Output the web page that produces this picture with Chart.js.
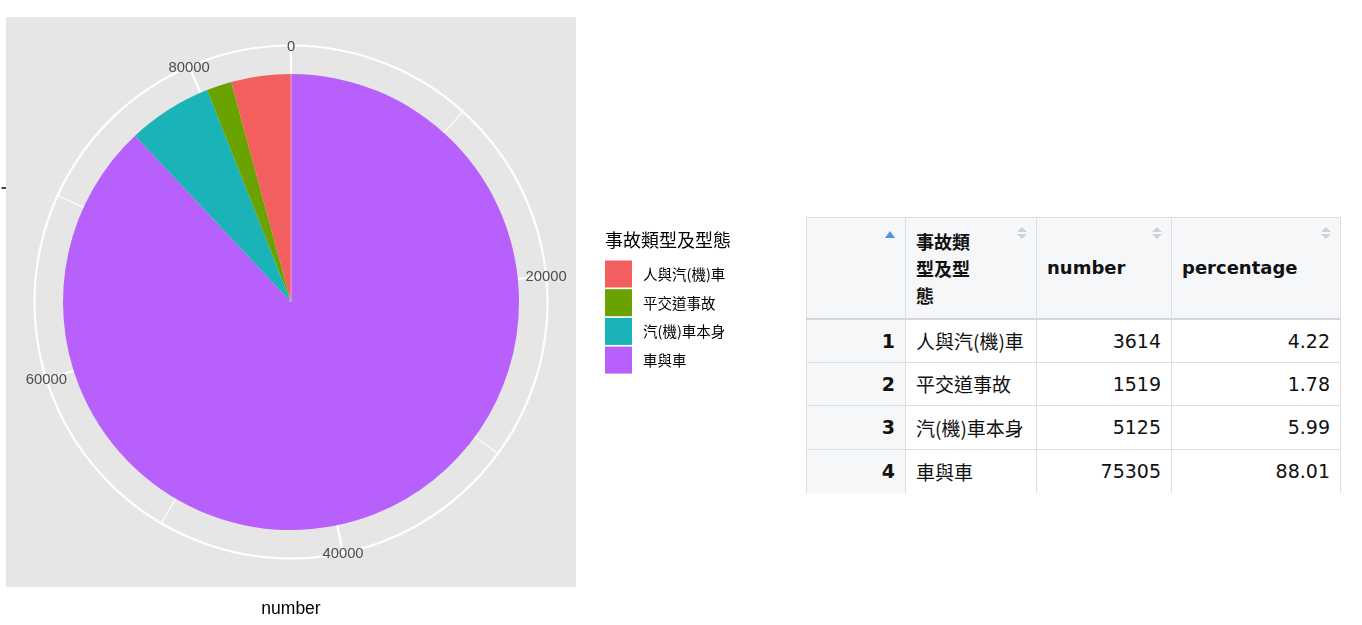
<!DOCTYPE html>
<html>
<head>
<meta charset="utf-8">
<script src="https://cdn.jsdelivr.net/npm/chart.js@4.4.1/dist/chart.umd.min.js"></script>
<style>
html,body{margin:0;padding:0;background:#fff;width:1362px;height:625px;overflow:hidden;}
#chartBox{position:absolute;left:0;top:0;width:790px;height:625px;}
#tbl{position:absolute;left:806px;top:217px;border-collapse:collapse;table-layout:fixed;
  font-family:"DejaVu Sans","Noto Sans CJK TC",sans-serif;color:#111;font-size:19px;}
#tbl th,#tbl td{border-left:1px solid #dcdfe3;border-right:1px solid #dcdfe3;padding:0 10px;box-sizing:border-box;}
#tbl th{background:#f6f7f9;height:101px;border-top:1px solid #dcdfe3;border-bottom:2px solid #d3d6da;
  font-weight:bold;font-size:18px;text-align:left;vertical-align:middle;position:relative;}
#tbl th.cjk{font-family:"Noto Sans CJK TC",sans-serif;line-height:27px;font-size:18px;padding-top:2px;}
#tbl td{height:43.5px;border-bottom:1px solid #dcdfe3;vertical-align:middle;white-space:nowrap;}
#tbl tr:last-child td{border-bottom:none;}
#tbl td.rn{background:#f6f7f9;text-align:right;font-weight:bold;}
#tbl td.nm{font-family:"Noto Sans CJK TC",sans-serif;text-align:left;}
#tbl td.num{text-align:right;}
.sortup{position:absolute;top:13px;right:10px;width:0;height:0;border-left:5.5px solid transparent;border-right:5.5px solid transparent;border-bottom:7px solid #4f95e0;}
.sortboth{position:absolute;top:9px;right:9px;width:10px;height:13px;}
.sortboth:before{content:"";position:absolute;left:0;top:0;border-left:5px solid transparent;border-right:5px solid transparent;border-bottom:5.5px solid #cfd2d6;}
.sortboth:after{content:"";position:absolute;left:0;top:7px;border-left:5px solid transparent;border-right:5px solid transparent;border-top:5.5px solid #cfd2d6;}
</style>
</head>
<body>
<div id="chartBox"><canvas id="c" width="790" height="625"></canvas></div>
<table id="tbl"></table>
<script>
// ---- data ----
const categories = ['人與汽(機)車', '平交道事故', '汽(機)車本身', '車與車'];
const counts = [3614, 1519, 5125, 75305];
const percentages = ['4.22', '1.78', '5.99', '88.01'];
const fillColors = ['#F35F5E', '#6AA200', '#19B3B8', '#B860FC'];
const majorBreaks = [0, 20000, 40000, 60000, 80000];
const majorLabels = ['0', '20000', '40000', '60000', '80000'];
const minorBreaks = [10000, 30000, 50000, 70000];
const legendTitle = '事故類型及型態';
const axisTitle = 'number';
const headers = ['事故類<br>型及型<br>態', 'number', 'percentage'];

// ---- table ----
(function buildTable(){
  const t = document.getElementById('tbl');
  const colW = [99, 131, 135, 169];
  let html = '<colgroup>' + colW.map(w => '<col style="width:' + w + 'px">').join('') + '</colgroup>';
  html += '<tr><th><span class="sortup"></span></th>' +
          '<th class="cjk">' + headers[0] + '<span class="sortboth"></span></th>' +
          '<th>' + headers[1] + '<span class="sortboth"></span></th>' +
          '<th>' + headers[2] + '<span class="sortboth"></span></th></tr>';
  categories.forEach((c, i) => {
    html += '<tr><td class="rn">' + (i + 1) + '</td><td class="nm">' + c + '</td><td class="num">' +
            counts[i] + '</td><td class="num">' + percentages[i] + '</td></tr>';
  });
  t.innerHTML = html;
})();

// ---- chart ----
const pieLabels = categories.slice().reverse();
const pieData = counts.slice().reverse();
const pieColors = fillColors.slice().reverse();

const ggPolar = {
  id: 'ggPolar',
  geom(chart) {
    const meta = chart.getDatasetMeta(0);
    const arc = meta.data[0];
    const total = chart.data.datasets[0].data.reduce((a, b) => a + b, 0);
    const R = arc.outerRadius;
    return {cx: arc.x, cy: arc.y, R, u: R / 0.4, total};
  },
  beforeDatasetsDraw(chart) {
    const ctx = chart.ctx;
    const g = this.geom(chart);
    const {cx, cy, u, total} = g;
    ctx.save();
    ctx.fillStyle = '#E6E6E6';
    ctx.fillRect(cx - 0.5 * u, cy - 0.5 * u, u, u);
    ctx.strokeStyle = '#FFFFFF';
    ctx.lineCap = 'butt';
    const spoke = (v, w) => {
      const th = v / total * 2 * Math.PI;
      ctx.lineWidth = w;
      ctx.beginPath();
      ctx.moveTo(cx, cy);
      ctx.lineTo(cx + 0.45 * u * Math.sin(th), cy - 0.45 * u * Math.cos(th));
      ctx.stroke();
    };
    minorBreaks.forEach(v => spoke(v, 1.2));
    majorBreaks.forEach(v => spoke(v, 2.2));
    ctx.lineWidth = 2.2;
    [0.2, 0.45].forEach(r => {
      ctx.beginPath();
      ctx.arc(cx, cy, r * u, 0, Math.PI * 2);
      ctx.stroke();
    });
    ctx.strokeStyle = '#333333';
    ctx.lineWidth = 1.8;
    ctx.beginPath();
    ctx.moveTo(cx - 0.5 * u - 4.5, cy - 0.2 * u);
    ctx.lineTo(cx - 0.5 * u, cy - 0.2 * u);
    ctx.stroke();
    ctx.fillStyle = '#000000';
    ctx.font = '17.5px "Liberation Sans", Arial, sans-serif';
    ctx.textAlign = 'center';
    ctx.textBaseline = 'middle';
    ctx.fillText(axisTitle, cx, cy + 0.5 * u + 22);
    ctx.restore();
  },
  afterDatasetsDraw(chart) {
    const ctx = chart.ctx;
    const g = this.geom(chart);
    const {cx, cy, u, total} = g;
    ctx.save();
    ctx.strokeStyle = 'rgba(255,255,255,0.45)';
    ctx.lineWidth = 1;
    ctx.beginPath();
    ctx.moveTo(cx, cy);
    ctx.lineTo(cx, cy - 0.4 * u);
    ctx.stroke();
    ctx.fillStyle = '#4D4D4D';
    ctx.font = '14.8px "Liberation Sans", Arial, sans-serif';
    ctx.textAlign = 'center';
    ctx.textBaseline = 'middle';
    majorBreaks.forEach((v, i) => {
      const th = v / total * 2 * Math.PI;
      ctx.fillText(majorLabels[i], cx + 0.45 * u * Math.sin(th), cy - 0.45 * u * Math.cos(th) + 1);
    });
    const lx = 605, ly = 240;
    ctx.fillStyle = '#000000';
    ctx.textAlign = 'left';
    ctx.font = '18px "Noto Sans CJK TC", sans-serif';
    ctx.fillText(legendTitle, lx, ly);
    ctx.font = '14.5px "Noto Sans CJK TC", sans-serif';
    const step = 28.7, key = 27, top0 = 260.5;
    categories.forEach((c, i) => {
      const y = top0 + i * step;
      ctx.fillStyle = fillColors[i];
      ctx.fillRect(lx, y, key, key);
      ctx.fillStyle = '#000000';
      ctx.fillText(c, 643, y + key / 2 + 0.5);
    });
    ctx.restore();
  }
};

new Chart(document.getElementById('c'), {
  type: 'pie',
  data: {
    labels: pieLabels,
    datasets: [{
      data: pieData,
      backgroundColor: pieColors,
      borderWidth: 0,
      hoverOffset: 0,
      offset: 0
    }]
  },
  options: {
    responsive: false,
    devicePixelRatio: 1,
    animation: false,
    rotation: 0,
    radius: 228,
    layout: {padding: {left: 63, right: 271, top: 74, bottom: 95}},
    plugins: {legend: {display: false}, tooltip: {enabled: false}},
    events: []
  },
  plugins: [ggPolar]
});
</script>
</body>
</html>
